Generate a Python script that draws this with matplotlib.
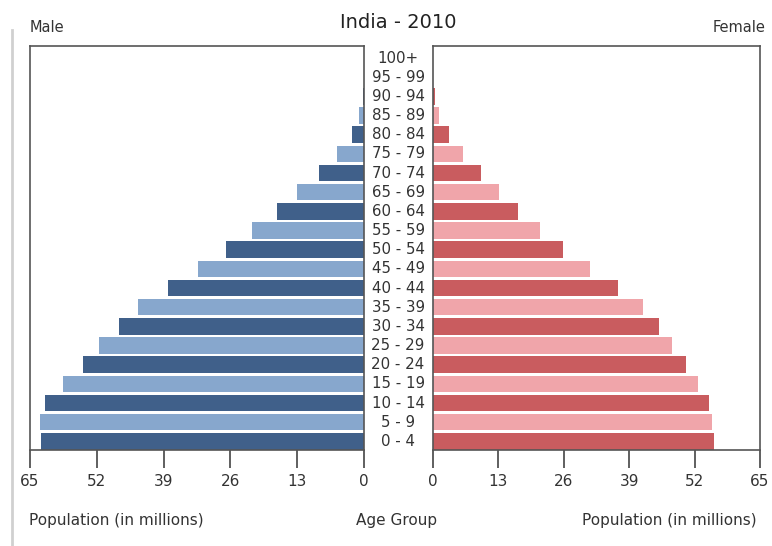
import numpy as np
import matplotlib
matplotlib.use("Agg")
import matplotlib.pyplot as plt
from matplotlib.lines import Line2D
import matplotlib.transforms as mtransforms

# age groups, bottom to top
ages = ["0 - 4", "5 - 9", "10 - 14", "15 - 19", "20 - 24", "25 - 29", "30 - 34",
        "35 - 39", "40 - 44", "45 - 49", "50 - 54", "55 - 59", "60 - 64", "65 - 69",
        "70 - 74", "75 - 79", "80 - 84", "85 - 89", "90 - 94", "95 - 99", "100+"]
# population in millions
male = [62.9, 63.0, 62.1, 58.6, 54.6, 51.5, 47.7, 44.0, 38.2, 32.4, 26.9,
        21.8, 17.0, 13.0, 8.7, 5.2, 2.3, 0.9, 0.2, 0.05, 0.01]
female = [55.9, 55.4, 54.9, 52.6, 50.2, 47.6, 44.9, 41.8, 36.7, 31.3, 25.9,
          21.3, 16.9, 13.1, 9.5, 6.0, 3.2, 1.2, 0.3, 0.05, 0.01]
ticks = [0, 13, 26, 39, 52, 65]

male_cols = ["#40608a", "#87a7cd"]
female_cols = ["#c95c5f", "#f0a5aa"]
txt = "#333333"

fig = plt.figure(figsize=(7.72, 5.46), dpi=100)
axL = fig.add_axes([30/772, 96/546, 334/772, 404/546])
axR = fig.add_axes([433/772, 96/546, 327/772, 404/546])

y = np.arange(len(ages))
axL.barh(y, male, height=0.86, color=[male_cols[i % 2] for i in y])
axR.barh(y, female, height=0.86, color=[female_cols[i % 2] for i in y])

axL.set_xlim(65, 0)
axR.set_xlim(0, 65)
for ax in (axL, axR):
    ax.set_ylim(-0.45, 20.63)
    ax.set_yticks([])
    ax.set_xticks(ticks)
    ax.tick_params(axis="x", direction="out", length=13, width=1.2,
                   color="#444444", labelsize=11, labelcolor=txt, pad=4)
    for s in ax.spines.values():
        s.set_color("#555555")
        s.set_linewidth(1.2)

# age labels between the panels
tr = mtransforms.blended_transform_factory(fig.transFigure, axL.transData)
for i, a in enumerate(ages):
    axL.text(398/772, i, a, transform=tr, ha="center", va="center",
             fontsize=10.8, color=txt, clip_on=False)

fig.text(30/772, 1 - 27/546, "Male", ha="left", va="center", fontsize=10.5, color=txt)
fig.text(766/772, 1 - 27/546, "Female", ha="right", va="center", fontsize=10.5, color=txt)
fig.text(398/772, 1 - 23/546, "India - 2010", ha="center", va="center", fontsize=14, color="#222222")
fig.text(29/772, 1 - 521/546, "Population (in millions)", ha="left", va="center", fontsize=11, color=txt)
fig.text(397/772, 1 - 520/546, "Age Group", ha="center", va="center", fontsize=11, color=txt)
fig.text(757/772, 1 - 521/546, "Population (in millions)", ha="right", va="center", fontsize=11, color=txt)

# faint border line on the left edge
fig.add_artist(Line2D([12/772, 12/772], [0, 1 - 30/546], transform=fig.transFigure,
                      color="#d0d0d0", lw=2))

fig.savefig("out.png", dpi=100)
